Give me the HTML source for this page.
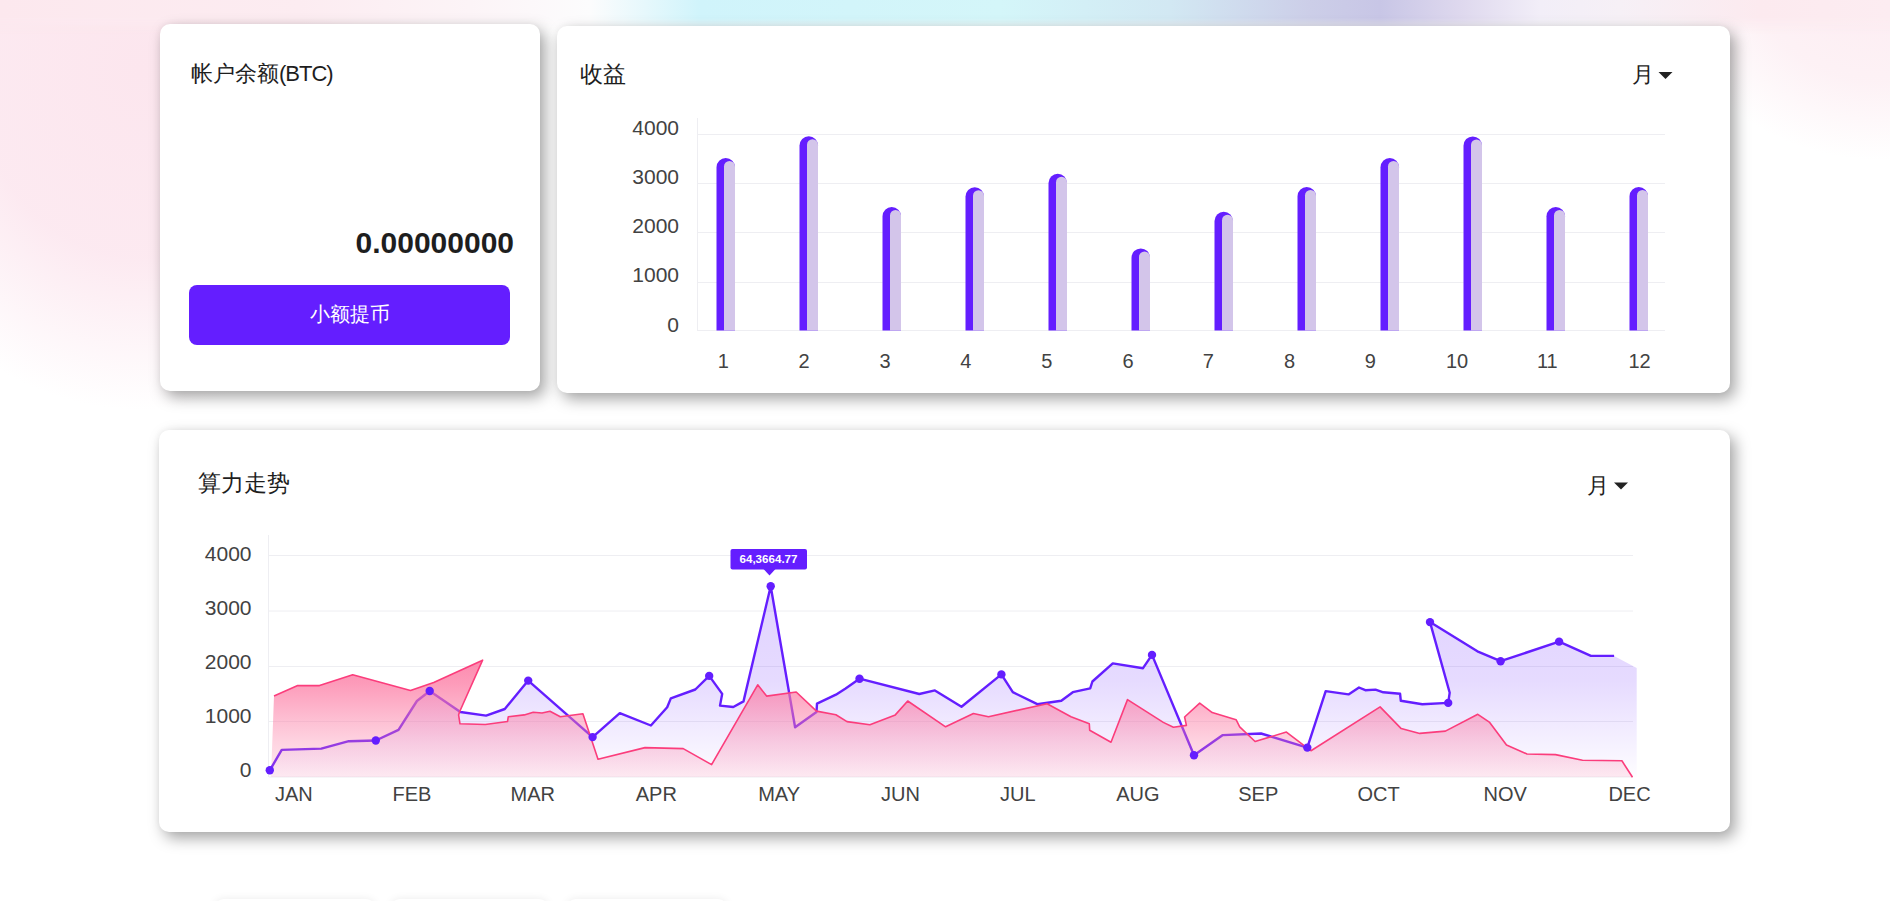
<!DOCTYPE html>
<html><head><meta charset="utf-8">
<style>
html,body{margin:0;padding:0;width:1890px;height:901px;overflow:hidden;background:#fff;font-family:"Liberation Sans",sans-serif;color:#222;}
.bg{position:absolute;left:0;top:0;width:1890px;height:901px;overflow:hidden}
.card{position:absolute;background:#fff;border-radius:10px;box-shadow:5px 6px 15px rgba(0,0,0,.36),-1px -1px 6px rgba(0,0,0,.03)}
.t{position:absolute;font-size:22px;line-height:26px;white-space:nowrap;color:#1e1e1e}
.yl{position:absolute;font-size:21px;line-height:23px;color:#424242;text-align:right;white-space:nowrap}
.xl{position:absolute;font-size:20px;line-height:23px;color:#424242;text-align:center;width:60px;white-space:nowrap}
svg{position:absolute;left:0;top:0}
</style></head><body>
<div class="bg">
  <div style="position:absolute;left:-160px;top:-270px;width:600px;height:680px;border-radius:50%;background:radial-gradient(closest-side,rgba(252,230,238,1),rgba(252,231,239,.9) 55%,rgba(255,255,255,0) 100%)"></div>
  <div style="position:absolute;left:1660px;top:-230px;width:440px;height:390px;border-radius:50%;background:radial-gradient(closest-side,rgba(252,232,239,.85),rgba(252,234,240,.65) 60%,rgba(255,255,255,0) 100%)"></div>
  <div style="position:absolute;left:0;top:0;width:1890px;height:34px;background:linear-gradient(90deg,rgba(252,232,238,1) 0px,rgba(252,236,241,1) 300px,rgba(252,244,247,1) 470px,rgba(252,252,253,1) 590px,rgba(208,244,251,1) 700px,rgba(212,246,249,1) 1000px,rgba(210,232,243,1) 1170px,rgba(204,206,232,1) 1310px,rgba(200,198,230,1) 1380px,rgba(222,216,238,1) 1460px,rgba(242,238,248,1) 1540px,rgba(246,240,246,1) 1620px,rgba(252,234,239,1) 1760px,rgba(252,236,241,1) 1890px);-webkit-mask-image:linear-gradient(180deg,#000 0,#000 18px,rgba(0,0,0,0) 34px)"></div>
</div>

<div class="card" style="left:160px;top:24px;width:380px;height:367px"></div>
<div class="card" style="left:557px;top:26px;width:1173px;height:367px"></div>
<div class="card" style="left:159px;top:430px;width:1571px;height:402px"></div>
<div style="position:absolute;left:214px;top:899px;width:162px;height:60px;border-radius:10px;background:#fff;box-shadow:0 0 9px rgba(0,0,0,.08)"></div>
<div style="position:absolute;left:390px;top:899px;width:159px;height:60px;border-radius:10px;background:#fff;box-shadow:0 0 9px rgba(0,0,0,.08)"></div>
<div style="position:absolute;left:566px;top:899px;width:162px;height:60px;border-radius:10px;background:#fff;box-shadow:0 0 9px rgba(0,0,0,.08)"></div>

<div class="t" style="left:191px;top:61px">帐户余额<span style="letter-spacing:-1px">(BTC)</span></div>
<div style="position:absolute;right:1376px;top:226px;font-size:30px;line-height:34px;font-weight:bold;color:#1e1e1e">0.00000000</div>
<div style="position:absolute;left:189px;top:285px;width:321px;height:60px;border-radius:8px;background:#641eff"></div>
<div style="position:absolute;left:189px;top:300px;width:321px;text-align:center;font-size:20px;line-height:28px;color:#fff">小额提币</div>

<div class="t" style="left:580px;top:62px;font-size:22.5px">收益</div>
<div class="t" style="left:1632px;top:62px;font-size:22px">月</div>
<svg width="1890" height="901" style="pointer-events:none"><path d="M1658.5,72 H1672.5 L1665.5,79 Z" fill="#222"/></svg>

<div class="t" style="left:198px;top:470px;font-size:22.8px">算力走势</div>
<div class="t" style="left:1586.5px;top:473px;font-size:22px">月</div>
<svg width="1890" height="901"><path d="M1614,482.5 H1628 L1621,489.5 Z" fill="#222"/></svg>

<svg width="1890" height="901">
 <line x1="697.5" x2="697.5" y1="118" y2="331" stroke="#eeeef2" stroke-width="1"/>
 <line x1="697" x2="1665" y1="134.5" y2="134.5" stroke="#eeeef2" stroke-width="1"/><line x1="697" x2="1665" y1="183.5" y2="183.5" stroke="#eeeef2" stroke-width="1"/><line x1="697" x2="1665" y1="232.5" y2="232.5" stroke="#eeeef2" stroke-width="1"/><line x1="697" x2="1665" y1="282.5" y2="282.5" stroke="#eeeef2" stroke-width="1"/><line x1="697" x2="1665" y1="330.5" y2="330.5" stroke="#eeeef2" stroke-width="1"/>
 <path d="M716.5,330.5 V167.25 A9.25,9.25 0 0 1 735.0,167.25 V330.5 Z" fill="#641eff"/><path d="M724.0,330.5 V166.5 A5.5,5.5 0 0 1 735.0,166.5 V330.5 Z" fill="#d3c5ea"/><path d="M799.5,330.5 V145.45 A9.25,9.25 0 0 1 818.0,145.45 V330.5 Z" fill="#641eff"/><path d="M807.0,330.5 V144.7 A5.5,5.5 0 0 1 818.0,144.7 V330.5 Z" fill="#d3c5ea"/><path d="M882.5,330.5 V216.25 A9.25,9.25 0 0 1 901.0,216.25 V330.5 Z" fill="#641eff"/><path d="M890.0,330.5 V215.5 A5.5,5.5 0 0 1 901.0,215.5 V330.5 Z" fill="#d3c5ea"/><path d="M965.5,330.5 V196.45 A9.25,9.25 0 0 1 984.0,196.45 V330.5 Z" fill="#641eff"/><path d="M973.0,330.5 V195.7 A5.5,5.5 0 0 1 984.0,195.7 V330.5 Z" fill="#d3c5ea"/><path d="M1048.5,330.5 V182.95 A9.25,9.25 0 0 1 1067.0,182.95 V330.5 Z" fill="#641eff"/><path d="M1056.0,330.5 V182.2 A5.5,5.5 0 0 1 1067.0,182.2 V330.5 Z" fill="#d3c5ea"/><path d="M1131.5,330.5 V257.65 A9.25,9.25 0 0 1 1150.0,257.65 V330.5 Z" fill="#641eff"/><path d="M1139.0,330.5 V256.9 A5.5,5.5 0 0 1 1150.0,256.9 V330.5 Z" fill="#d3c5ea"/><path d="M1214.5,330.5 V220.95 A9.25,9.25 0 0 1 1233.0,220.95 V330.5 Z" fill="#641eff"/><path d="M1222.0,330.5 V220.2 A5.5,5.5 0 0 1 1233.0,220.2 V330.5 Z" fill="#d3c5ea"/><path d="M1297.5,330.5 V196.25 A9.25,9.25 0 0 1 1316.0,196.25 V330.5 Z" fill="#641eff"/><path d="M1305.0,330.5 V195.5 A5.5,5.5 0 0 1 1316.0,195.5 V330.5 Z" fill="#d3c5ea"/><path d="M1380.5,330.5 V167.25 A9.25,9.25 0 0 1 1399.0,167.25 V330.5 Z" fill="#641eff"/><path d="M1388.0,330.5 V166.5 A5.5,5.5 0 0 1 1399.0,166.5 V330.5 Z" fill="#d3c5ea"/><path d="M1463.5,330.5 V145.65 A9.25,9.25 0 0 1 1482.0,145.65 V330.5 Z" fill="#641eff"/><path d="M1471.0,330.5 V144.9 A5.5,5.5 0 0 1 1482.0,144.9 V330.5 Z" fill="#d3c5ea"/><path d="M1546.5,330.5 V216.25 A9.25,9.25 0 0 1 1565.0,216.25 V330.5 Z" fill="#641eff"/><path d="M1554.0,330.5 V215.5 A5.5,5.5 0 0 1 1565.0,215.5 V330.5 Z" fill="#d3c5ea"/><path d="M1629.5,330.5 V196.25 A9.25,9.25 0 0 1 1648.0,196.25 V330.5 Z" fill="#641eff"/><path d="M1637.0,330.5 V195.5 A5.5,5.5 0 0 1 1648.0,195.5 V330.5 Z" fill="#d3c5ea"/>
</svg>
<div class="yl" style="right:1211px;top:116.0px">4000</div><div class="yl" style="right:1211px;top:165.0px">3000</div><div class="yl" style="right:1211px;top:214.0px">2000</div><div class="yl" style="right:1211px;top:263.1px">1000</div><div class="yl" style="right:1211px;top:312.9px">0</div>
<div class="xl" style="left:693.2px;top:349.5px">1</div><div class="xl" style="left:774px;top:349.5px">2</div><div class="xl" style="left:855px;top:349.5px">3</div><div class="xl" style="left:935.8px;top:349.5px">4</div><div class="xl" style="left:1016.8px;top:349.5px">5</div><div class="xl" style="left:1098px;top:349.5px">6</div><div class="xl" style="left:1178.3px;top:349.5px">7</div><div class="xl" style="left:1259.6px;top:349.5px">8</div><div class="xl" style="left:1340.4px;top:349.5px">9</div><div class="xl" style="left:1427px;top:349.5px">10</div><div class="xl" style="left:1517.3px;top:349.5px">11</div><div class="xl" style="left:1609.6px;top:349.5px">12</div>

<svg width="1890" height="901">
 <defs>
  <linearGradient id="gp" gradientUnits="userSpaceOnUse" x1="0" y1="586" x2="0" y2="777">
   <stop offset="0" stop-color="#641eff" stop-opacity="0.2"/>
   <stop offset="0.5" stop-color="#641eff" stop-opacity="0.16"/>
   <stop offset="1" stop-color="#641eff" stop-opacity="0.01"/>
  </linearGradient>
  <linearGradient id="gk" gradientUnits="userSpaceOnUse" x1="0" y1="660" x2="0" y2="777">
   <stop offset="0" stop-color="#fc7aa3" stop-opacity="0.88"/>
   <stop offset="0.2" stop-color="#fc7aa3" stop-opacity="0.75"/>
   <stop offset="0.5" stop-color="#fc7aa3" stop-opacity="0.49"/>
   <stop offset="0.7" stop-color="#fc7aa3" stop-opacity="0.33"/>
   <stop offset="1" stop-color="#fc7aa3" stop-opacity="0.15"/>
  </linearGradient>
 </defs>
 <line x1="268.5" x2="268.5" y1="535" y2="777" stroke="#eeeef2" stroke-width="1"/>
 <line x1="269" x2="1633" y1="555.5" y2="555.5" stroke="#eeeef2" stroke-width="1"/><line x1="269" x2="1633" y1="611" y2="611" stroke="#eeeef2" stroke-width="1"/><line x1="269" x2="1633" y1="666.5" y2="666.5" stroke="#eeeef2" stroke-width="1"/><line x1="269" x2="1633" y1="721.5" y2="721.5" stroke="#eeeef2" stroke-width="1"/><line x1="269" x2="1633" y1="777" y2="777" stroke="#eeeef2" stroke-width="1"/>
 <polygon points="269.8,770.3 281.7,749.9 321.3,748.6 348.8,741.2 375.8,740.5 398.5,729.8 416.9,701.0 429.7,691.0 460.4,712.0 486.1,715.6 504.8,709.0 528.2,680.6 592.6,737.1 619.8,713.1 650.9,725.5 667.2,707.3 670.8,698.4 695.3,689.5 709.2,675.9 722.2,693.9 720.0,705.6 733.3,707.0 743.5,701.4 770.7,586.3 795.1,727.2 816.5,712.0 817.0,703.6 835.9,694.7 845.6,688.4 859.5,678.7 919.3,694.0 934.9,690.4 961.5,706.7 1001.4,674.4 1012.8,692.2 1037.3,704.2 1061.3,700.7 1072.8,692.2 1090.2,688.3 1092.4,681.5 1112.8,663.4 1143.0,668.2 1152.0,654.9 1194.0,755.2 1222.8,735.1 1261.0,733.5 1307.3,747.6 1325.7,691.1 1348.5,694.4 1359.0,687.5 1365.3,690.2 1375.5,689.6 1383.3,692.3 1400.1,693.8 1400.8,700.8 1422.3,704.3 1448.2,702.9 1449.7,692.7 1430.0,622.1 1477.4,651.3 1500.6,661.2 1559.1,641.6 1590.9,655.9 1614.1,655.9 1636.7,667.9 1636.7,777.0 269.8,777.0" fill="url(#gp)" fill-rule="evenodd"/>
 <polyline points="269.8,770.3 281.7,749.9 321.3,748.6 348.8,741.2 375.8,740.5 398.5,729.8 416.9,701.0 429.7,691.0 460.4,712.0 486.1,715.6 504.8,709.0 528.2,680.6 592.6,737.1 619.8,713.1 650.9,725.5 667.2,707.3 670.8,698.4 695.3,689.5 709.2,675.9 722.2,693.9 720.0,705.6 733.3,707.0 743.5,701.4 770.7,586.3 795.1,727.2 816.5,712.0 817.0,703.6 835.9,694.7 845.6,688.4 859.5,678.7 919.3,694.0 934.9,690.4 961.5,706.7 1001.4,674.4 1012.8,692.2 1037.3,704.2 1061.3,700.7 1072.8,692.2 1090.2,688.3 1092.4,681.5 1112.8,663.4 1143.0,668.2 1152.0,654.9 1194.0,755.2 1222.8,735.1 1261.0,733.5 1307.3,747.6 1325.7,691.1 1348.5,694.4 1359.0,687.5 1365.3,690.2 1375.5,689.6 1383.3,692.3 1400.1,693.8 1400.8,700.8 1422.3,704.3 1448.2,702.9 1449.7,692.7 1430.0,622.1 1477.4,651.3 1500.6,661.2 1559.1,641.6 1590.9,655.9 1614.1,655.9" fill="none" stroke="#641eff" stroke-width="2.4" stroke-linejoin="round"/>
 <polygon points="271.0,777.0 274.0,696.0 297.7,685.6 319.5,685.6 352.7,674.8 410.5,690.4 433.7,682.4 482.6,660.2 459.5,712.0 458.6,714.9 460.0,723.8 485.3,724.5 507.5,721.5 508.3,716.7 524.3,714.9 533.2,712.2 542.0,713.0 550.0,711.3 560.3,716.7 582.9,713.8 598.0,759.3 645.0,747.6 683.2,748.6 711.6,764.6 757.7,684.8 766.6,696.1 796.2,692.0 816.5,711.1 835.9,714.7 847.0,721.6 869.9,724.7 895.3,714.9 907.7,701.0 945.6,726.8 973.4,713.5 988.5,716.7 1047.1,703.7 1071.0,716.7 1089.3,723.8 1089.7,730.3 1111.0,742.2 1127.5,699.6 1163.3,722.4 1173.4,727.2 1186.4,725.4 1184.6,717.0 1199.7,703.2 1212.2,712.6 1236.1,719.7 1239.7,726.8 1255.1,741.5 1286.4,732.1 1304.5,745.8 1311.0,750.7 1380.1,706.9 1401.2,728.6 1419.7,733.4 1445.4,731.1 1477.8,714.3 1489.7,722.4 1506.5,745.1 1527.0,754.0 1555.5,754.6 1582.5,760.3 1621.9,760.8 1632.5,777.2 1632.5,777.0" fill="url(#gk)" fill-rule="evenodd"/>
 <polyline points="274.0,696.0 297.7,685.6 319.5,685.6 352.7,674.8 410.5,690.4 433.7,682.4 482.6,660.2 459.5,712.0 458.6,714.9 460.0,723.8 485.3,724.5 507.5,721.5 508.3,716.7 524.3,714.9 533.2,712.2 542.0,713.0 550.0,711.3 560.3,716.7 582.9,713.8 598.0,759.3 645.0,747.6 683.2,748.6 711.6,764.6 757.7,684.8 766.6,696.1 796.2,692.0 816.5,711.1 835.9,714.7 847.0,721.6 869.9,724.7 895.3,714.9 907.7,701.0 945.6,726.8 973.4,713.5 988.5,716.7 1047.1,703.7 1071.0,716.7 1089.3,723.8 1089.7,730.3 1111.0,742.2 1127.5,699.6 1163.3,722.4 1173.4,727.2 1186.4,725.4 1184.6,717.0 1199.7,703.2 1212.2,712.6 1236.1,719.7 1239.7,726.8 1255.1,741.5 1286.4,732.1 1304.5,745.8 1311.0,750.7 1380.1,706.9 1401.2,728.6 1419.7,733.4 1445.4,731.1 1477.8,714.3 1489.7,722.4 1506.5,745.1 1527.0,754.0 1555.5,754.6 1582.5,760.3 1621.9,760.8 1632.5,777.2" fill="none" stroke="#fb3d7c" stroke-width="1.6" stroke-linejoin="round"/>
 <circle cx="269.8" cy="770.3" r="4.2" fill="#641eff"/><circle cx="375.8" cy="740.5" r="4.2" fill="#641eff"/><circle cx="429.7" cy="691" r="4.2" fill="#641eff"/><circle cx="528.2" cy="680.6" r="4.2" fill="#641eff"/><circle cx="592.6" cy="737.1" r="4.2" fill="#641eff"/><circle cx="709.2" cy="675.9" r="4.2" fill="#641eff"/><circle cx="770.7" cy="586.3" r="4.2" fill="#641eff"/><circle cx="859.5" cy="678.7" r="4.2" fill="#641eff"/><circle cx="1001.4" cy="674.4" r="4.2" fill="#641eff"/><circle cx="1152" cy="654.9" r="4.2" fill="#641eff"/><circle cx="1194" cy="755.2" r="4.2" fill="#641eff"/><circle cx="1307.3" cy="747.6" r="4.2" fill="#641eff"/><circle cx="1448.2" cy="702.9" r="4.2" fill="#641eff"/><circle cx="1430" cy="622.1" r="4.2" fill="#641eff"/><circle cx="1500.6" cy="661.2" r="4.2" fill="#641eff"/><circle cx="1559.1" cy="641.6" r="4.2" fill="#641eff"/>
 <rect x="730.5" y="549" width="76.5" height="20.5" rx="2" fill="#641eff"/>
 <path d="M763.5,569 L775.5,569 L769.5,575.5 Z" fill="#641eff"/>
</svg>
<div style="position:absolute;left:730px;top:550px;width:77px;text-align:center;font-size:11.6px;line-height:18px;font-weight:bold;color:#fff">64,3664.77</div>
<div class="yl" style="right:1638.5px;top:542.2px">4000</div><div class="yl" style="right:1638.5px;top:596.1px">3000</div><div class="yl" style="right:1638.5px;top:650.1px">2000</div><div class="yl" style="right:1638.5px;top:704.1px">1000</div><div class="yl" style="right:1638.5px;top:757.8px">0</div>
<div class="xl" style="left:253.89999999999998px;width:80px;top:783px">JAN</div><div class="xl" style="left:371.9px;width:80px;top:783px">FEB</div><div class="xl" style="left:492.79999999999995px;width:80px;top:783px">MAR</div><div class="xl" style="left:616.3px;width:80px;top:783px">APR</div><div class="xl" style="left:739.1px;width:80px;top:783px">MAY</div><div class="xl" style="left:860.4px;width:80px;top:783px">JUN</div><div class="xl" style="left:977.8px;width:80px;top:783px">JUL</div><div class="xl" style="left:1097.8px;width:80px;top:783px">AUG</div><div class="xl" style="left:1218.3px;width:80px;top:783px">SEP</div><div class="xl" style="left:1338.5px;width:80px;top:783px">OCT</div><div class="xl" style="left:1465.2px;width:80px;top:783px">NOV</div><div class="xl" style="left:1589.5px;width:80px;top:783px">DEC</div>
</body></html>
